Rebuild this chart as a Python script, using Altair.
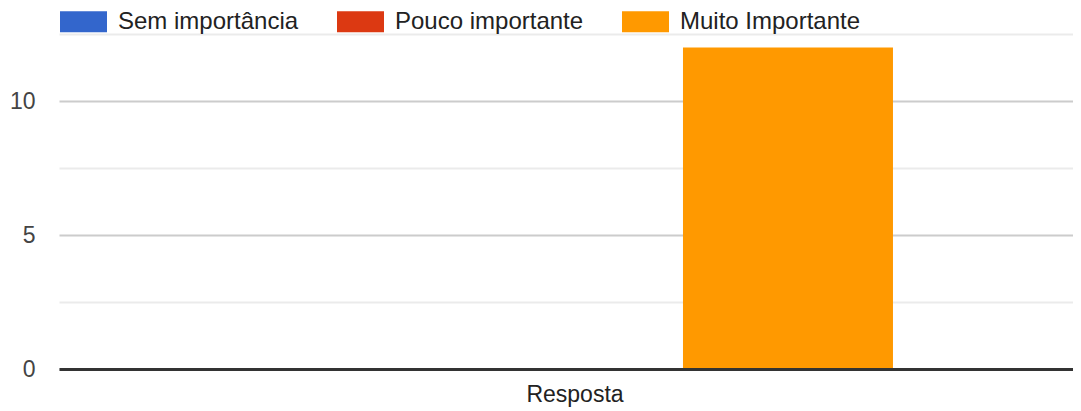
import altair as alt
import pandas as pd

categorias = ["Sem importância", "Pouco importante", "Muito Importante"]
valores = [0, 0, 12]
grupo = ["Resposta", "Resposta", "Resposta"]
cores = ["#3366cc", "#dc3912", "#ff9900"]

df = pd.DataFrame({"grupo": grupo, "categoria": categorias, "valor": valores})

FONT = "Liberation Sans"

chart = (
    alt.Chart(df)
    .mark_bar()
    .encode(
        x=alt.X(
            "grupo:N",
            title=None,
            scale=alt.Scale(paddingInner=0, paddingOuter=0),
            axis=alt.Axis(
                labelAngle=0,
                labelFont=FONT,
                labelFontSize=23,
                labelColor="#222222",
                labelPadding=14,
                labelOffset=9,
                ticks=False,
                domainColor="#333333",
                domainWidth=3,
                grid=False,
                zindex=1,
            ),
        ),
        xOffset=alt.XOffset(
            "categoria:N",
            sort=categorias,
            scale=alt.Scale(paddingInner=0.054, paddingOuter=0.811),
        ),
        y=alt.Y(
            "valor:Q",
            title=None,
            scale=alt.Scale(domain=[0, 12.5], nice=False),
            axis=alt.Axis(
                values=[0, 2.5, 5, 7.5, 10, 12.5],
                labelExpr="datum.value % 5 === 0 ? datum.label : ''",
                labelFont=FONT,
                labelFontSize=23,
                labelColor="#444444",
                labelPadding=24,
                ticks=False,
                domain=False,
                gridColor={
                    "condition": {"test": "datum.value % 5 === 0", "value": "#cccccc"},
                    "value": "#ebebeb",
                },
                gridWidth=2,
            ),
        ),
        color=alt.Color(
            "categoria:N",
            sort=categorias,
            scale=alt.Scale(domain=categorias, range=cores),
            legend=alt.Legend(
                title=None,
                orient="none",
                direction="horizontal",
                legendX=1,
                legendY=-36,
                symbolType="M-1,-0.447H1V0.447H-1Z",
                symbolSize=2209,
                symbolStrokeWidth=0,
                symbolOpacity=1,
                labelFont=FONT,
                labelFontSize=24,
                labelColor="#222222",
                labelOffset=11,
                labelLimit=0,
                columnPadding=38,
                padding=0,
            ),
        ),
    )
    .properties(
        width=1014,
        height=335,
        autosize=alt.AutoSizeParams(type="none"),
        padding={"left": 51, "top": 26, "right": 0, "bottom": 40},
    )
    .configure_view(stroke=None)
)

chart.save("out.html", embed_options={"renderer": "svg", "actions": False})
